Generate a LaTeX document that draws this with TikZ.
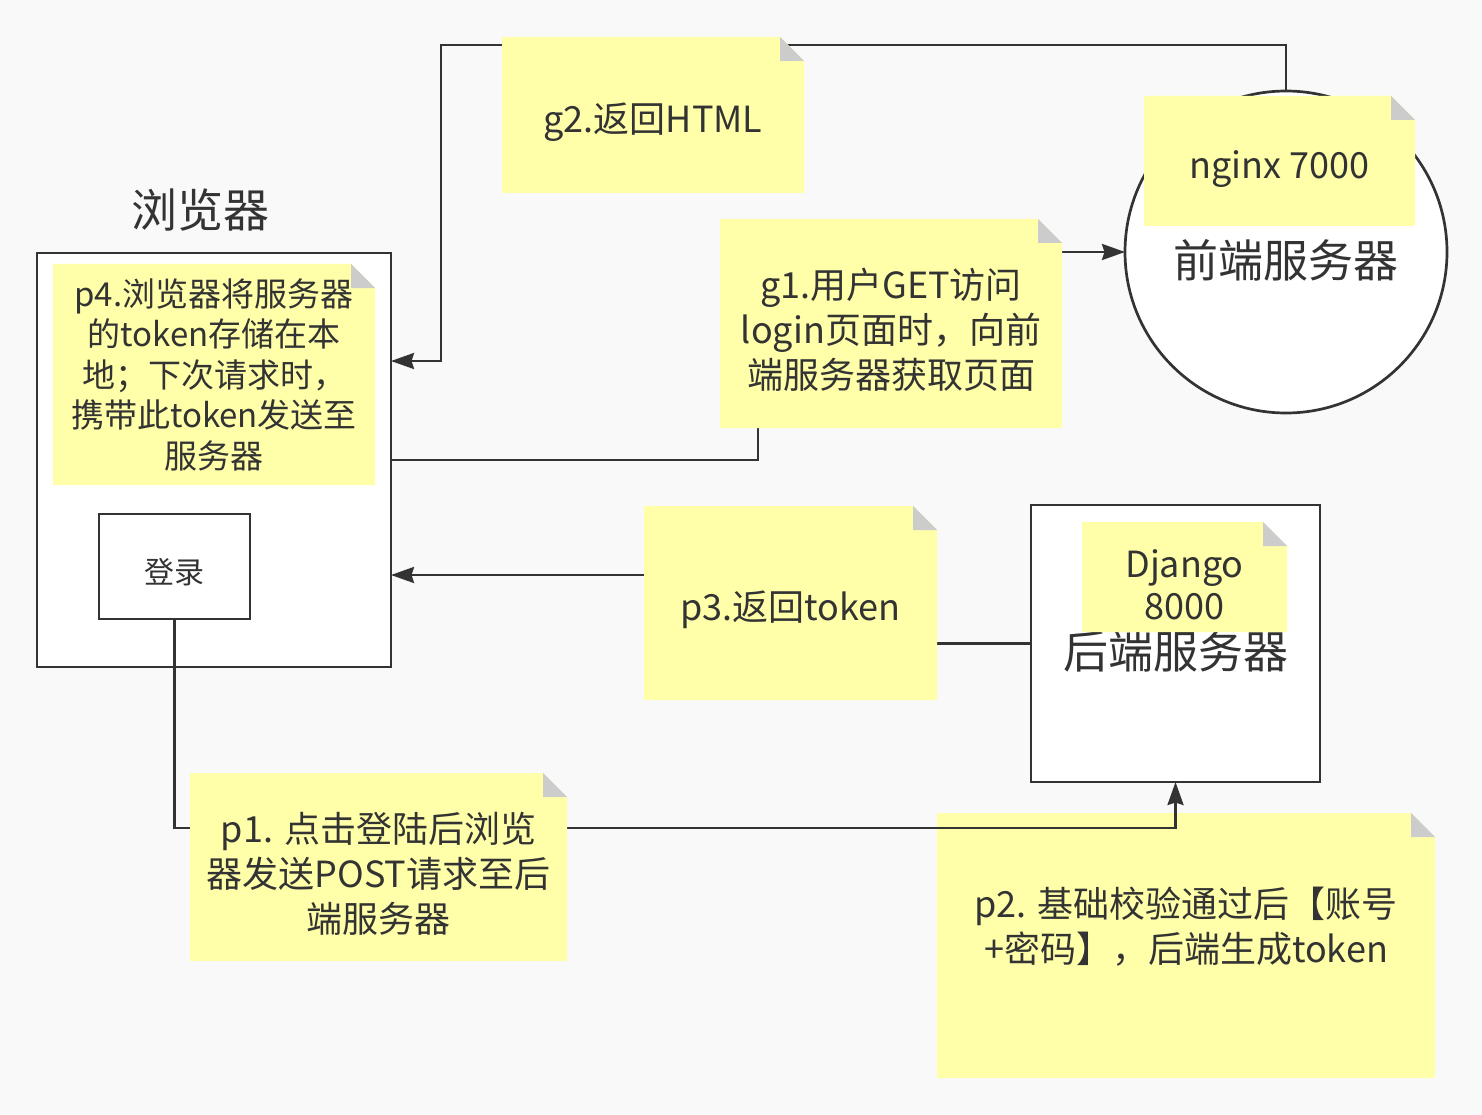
\documentclass[tikz,border=0pt]{standalone}
\usepackage{fontspec}
\setmainfont{Noto Sans CJK SC}
\usetikzlibrary{arrows.meta}
\definecolor{bgcol}{HTML}{F9F9F9}
\definecolor{notecol}{HTML}{FFFFAA}
\definecolor{foldcol}{HTML}{CCCCCC}
\definecolor{inkcol}{HTML}{333333}
\newcommand{\ntop}{\rule{0pt}{1.2em}}
\begin{document}
\begin{tikzpicture}[x=1pt, y=-1pt,
  box/.style={draw=inkcol, line width=2.7pt, fill=white, inner sep=0, outer sep=0, text=inkcol, font=\fontsize{45}{54}\selectfont},
  note/.style={inner sep=0, outer sep=0, text=inkcol, align=center, font=\fontsize{36}{45}\selectfont,
    path picture={
      \fill[notecol] (path picture bounding box.south west) -- (path picture bounding box.north west)
        -- ([xshift=-24pt]path picture bounding box.north east) -- ([yshift=-24pt]path picture bounding box.north east)
        -- (path picture bounding box.south east) -- cycle;
      \fill[foldcol] ([xshift=-24pt]path picture bounding box.north east) -- ([xshift=-24pt,yshift=-24pt]path picture bounding box.north east)
        -- ([yshift=-24pt]path picture bounding box.north east) -- cycle;}},
  wire/.style={draw=inkcol, line width=2.7pt, -{Stealth[length=23pt, width=16pt, inset=2.5pt]}}]
\path[use as bounding box, fill=bgcol] (0,0) rectangle (1482,1115);
% boxes
\node[box, minimum width=354, minimum height=414] (brw) at (214,460) {};
\node[text=inkcol, font=\fontsize{46}{55}\selectfont] (brwtitle) at (200,210) {浏览器};
\node[box, minimum width=151, minimum height=105, font=\fontsize{30}{36}\selectfont] (login) at (174.5,566.5) {\ntop 登录};
\node[box, circle, minimum size=322] (fe) at (1286,252) {\ntop 前端服务器};
\node[box, minimum width=289, minimum height=277] (be) at (1175.5,643.5) {\ntop 后端服务器};
\node[note, minimum width=498, minimum height=265] (p2) at (1186,945.5) {\rule{0pt}{1.32em}p2. 基础校验通过后【账号\\+密码】，后端生成token\\\strut};
% connectors
\coordinate (cg2) at (441,45);
\coordinate (cg1) at (758,400);
\coordinate (cp3) at (790,600);
\coordinate (cp1) at (1175.5,828);
\draw[wire] (fe.north) |- (cg2) |- ([yshift=99pt]brw.east);
\draw[wire] (brw.east) -| (cg1) |- (fe.west);
\draw[wire] (be.west) -| (cp3) |- ([yshift=-115pt]brw.east);
\draw[wire] (login.south) |- (cp1) -- (be.south);
% notes
\node[note, minimum width=302, minimum height=156] (g2) at (653,115) {\ntop g2.返回HTML};
\node[note, minimum width=271, minimum height=130] (ng) at (1279.5,161) {\ntop nginx 7000};
\node[note, minimum width=342, minimum height=209] (g1) at (891,323.5) {\ntop g1.用户GET访问\\login页面时，向前\\端服务器获取页面};
\node[note, minimum width=322, minimum height=221, font=\fontsize{33}{40.5}\selectfont] (p4) at (214,374.5) {p4.浏览器将服务器\\的token存储在本\\地；下次请求时，\\携带此token发送至\\服务器};
\node[note, minimum width=293, minimum height=194] (p3) at (790.5,603) {\ntop p3.返回token};
\node[note, minimum width=205, minimum height=110, font=\fontsize{36}{42}\selectfont] (dj) at (1184.5,577) {\ntop Django\\8000};
\node[note, minimum width=377, minimum height=188] (p1) at (378.5,867) {\ntop p1. 点击登陆后浏览\\器发送POST请求至后\\端服务器};
\end{tikzpicture}
\end{document}
